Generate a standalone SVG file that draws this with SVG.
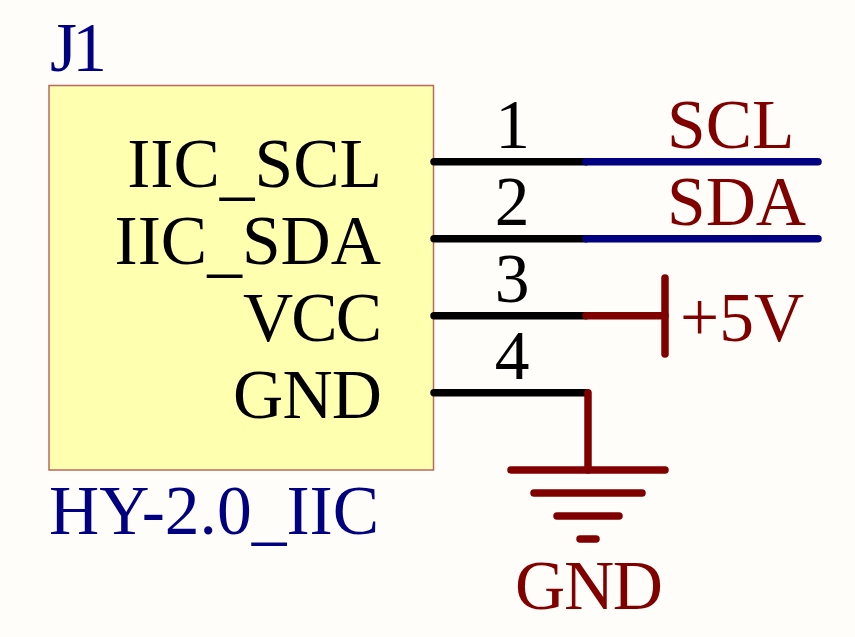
<svg xmlns="http://www.w3.org/2000/svg" width="855" height="637" viewBox="0 0 855 637">
<style>
text{font-family:"Liberation Serif","Times New Roman",serif;font-size:69.500px}
.b{fill:#000}.n{fill:#000080}.r{fill:#800000}
.e{text-anchor:end}.m{text-anchor:middle}
line{stroke-width:7.500;stroke-linecap:round;fill:none}
.k{stroke:#000}.u{stroke:#000080}.d{stroke:#800000}
</style>
<rect width="855" height="637" fill="#fffdf9"/>
<g id="J1">
<rect x="49" y="85.500" width="384.500" height="384.500" fill="#ffffb0" stroke="#b9685c" stroke-width="1.500"/>
<text x="50" y="70.500" class="n" textLength="57" lengthAdjust="spacing">J1</text>
<text x="49" y="533.500" class="n">HY-2.0<tspan dy="3">_</tspan><tspan dy="-3">IIC</tspan></text>
<text x="382" y="186.500" class="b e">IIC<tspan dy="5">_</tspan><tspan dy="-5">SCL</tspan></text>
<text x="381" y="263.500" class="b e">IIC<tspan dy="5">_</tspan><tspan dy="-5">SDA</tspan></text>
<text x="382" y="340.500" class="b e" textLength="139" lengthAdjust="spacing">VCC</text>
<text x="382" y="417.500" class="b e" textLength="149" lengthAdjust="spacing">GND</text>
<text x="512.500" y="147.500" class="b m">1</text>
<text x="512" y="224.500" class="b m">2</text>
<text x="512" y="301.500" class="b m">3</text>
<text x="512" y="378.500" class="b m">4</text>
</g>
<g id="connectors">
<line x1="434" y1="161.700" x2="586" y2="161.700" class="k"/>
<line x1="434" y1="238.700" x2="586" y2="238.700" class="k"/>
<line x1="434" y1="315.700" x2="586" y2="315.700" class="k"/>
<line x1="434" y1="392.700" x2="586" y2="392.700" class="k"/>
<line x1="586" y1="161.700" x2="818" y2="161.700" class="u"/>
<line x1="586" y1="238.700" x2="818" y2="238.700" class="u"/>
<line x1="586" y1="315.700" x2="665" y2="315.700" class="d"/>
<line x1="588" y1="392.700" x2="588" y2="470" class="d"/>
</g>
<g id="SCL"><text x="667" y="147.500" class="r">SCL</text></g>
<g id="SDA"><text x="667" y="224.500" class="r">SDA</text></g>
<g id="VCC5">
<line x1="665" y1="278" x2="665" y2="354" class="d"/>
<text x="680" y="340.500" class="r">+5V</text>
</g>
<g id="GND">
<line x1="511" y1="470" x2="665" y2="470" class="d"/>
<line x1="534" y1="493" x2="642" y2="493" class="d"/>
<line x1="557" y1="516" x2="619" y2="516" class="d"/>
<line x1="580" y1="539" x2="596" y2="539" class="d"/>
<text x="515" y="608.500" class="r" textLength="148" lengthAdjust="spacing">GND</text>
</g>
</svg>
